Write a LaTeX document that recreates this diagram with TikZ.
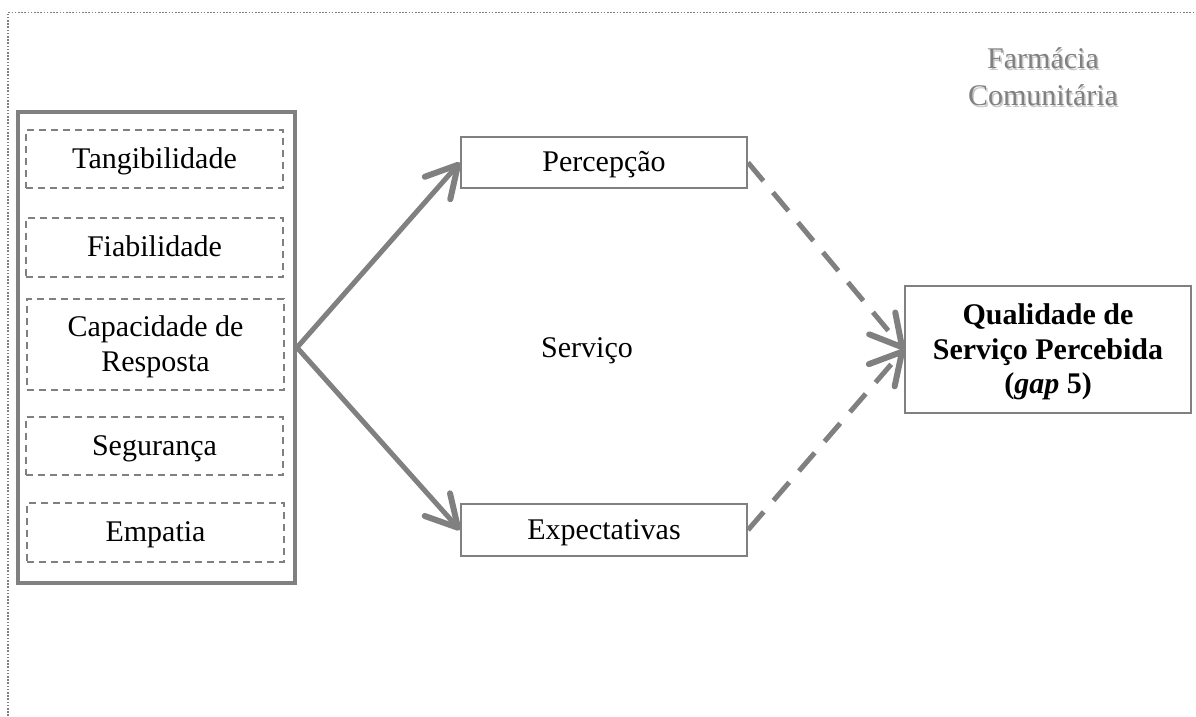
\documentclass[tikz,border=0pt]{standalone}
\usepackage{fontspec}
\setmainfont{Liberation Serif}
\usetikzlibrary{arrows.meta}
\definecolor{lg}{HTML}{808080}
\definecolor{shadowc}{HTML}{C8C8C8}
\tikzset{
  dimbox/.style={draw=lg, line width=1.5pt, dash pattern=on 7pt off 5pt, minimum width=257pt, align=center, inner sep=0pt},
  stagebox/.style={draw=lg, line width=2pt, minimum width=286pt, align=center, inner sep=0pt},
  oneline/.style={text height=22pt, text depth=4pt},
  solidarrow/.style={draw=lg, line width=5pt, line cap=round, -{Straight Barb[length=31pt,width=34pt,line width=6pt,round]}},
  dasharrow/.style={draw=lg, line width=5pt, dash pattern=on 24pt off 15pt, -{Straight Barb[length=31pt,width=34pt,line width=6pt,round]}},
}
\begin{document}
\begin{tikzpicture}[x=1pt,y=-1pt, font=\fontsize{30}{34.5}\selectfont]
\useasboundingbox (0,0) rectangle (1196,716);
% outer dotted frame (top and left only visible)
\coordinate (fbl) at (8,716);
\coordinate (ftl) at (8,12.5);
\coordinate (ftr) at (1196,12.5);
\draw[lg, line width=1.4pt, dash pattern=on 1.6pt off 1.6pt] (fbl) -- (ftl) -- (ftr);

% big box
\node[draw=lg, line width=4pt, minimum width=277pt, minimum height=471pt, inner sep=0pt] (big) at (156.5,347.5) {};

% dimensions
\node[dimbox, oneline, minimum height=58pt] (tang) at (154.5,159) {Tangibilidade};
\node[dimbox, oneline, minimum height=59pt] (fiab) at (154.5,247.5) {Fiabilidade};
\node[dimbox, minimum height=91pt] (capa) at (155.5,344.5) {\rule{0pt}{25pt}Capacidade de\\Resposta};
\node[dimbox, oneline, minimum height=58pt] (segu) at (154.5,446) {Segurança};
\node[dimbox, oneline, minimum height=59pt] (empa) at (155.5,532.5) {Empatia};

% stages
\node[stagebox, oneline, minimum height=51pt] (perc) at (604,162.5) {Percepção};
\node[stagebox, oneline, minimum height=52pt] (expe) at (604,530) {Expectativas};
\node[oneline] (serv) at (587,348) {Serviço};

% result
\node[stagebox, minimum height=127pt] (qual) at (1048,349.5) {\rule{0pt}{26pt}\bfseries Qualidade de\\\bfseries Serviço Percebida\\\bfseries (\textit{gap} 5)};

% label
\node[text=shadowc, align=center, font=\fontsize{30}{37}\selectfont] (farmsh) at (1044.5,78.5) {Farmácia\\Comunitária};
\node[text=lg, align=center, font=\fontsize{30}{37}\selectfont] (farm) at (1043,77) {Farmácia\\Comunitária};

% connectors
\draw[solidarrow] (big.east) -- (perc.west);
\draw[solidarrow] (big.east) -- (expe.west);
\draw[dasharrow] (perc.east) -- (qual.west);
\draw[dasharrow] (expe.east) -- (qual.west);
\end{tikzpicture}
\end{document}
